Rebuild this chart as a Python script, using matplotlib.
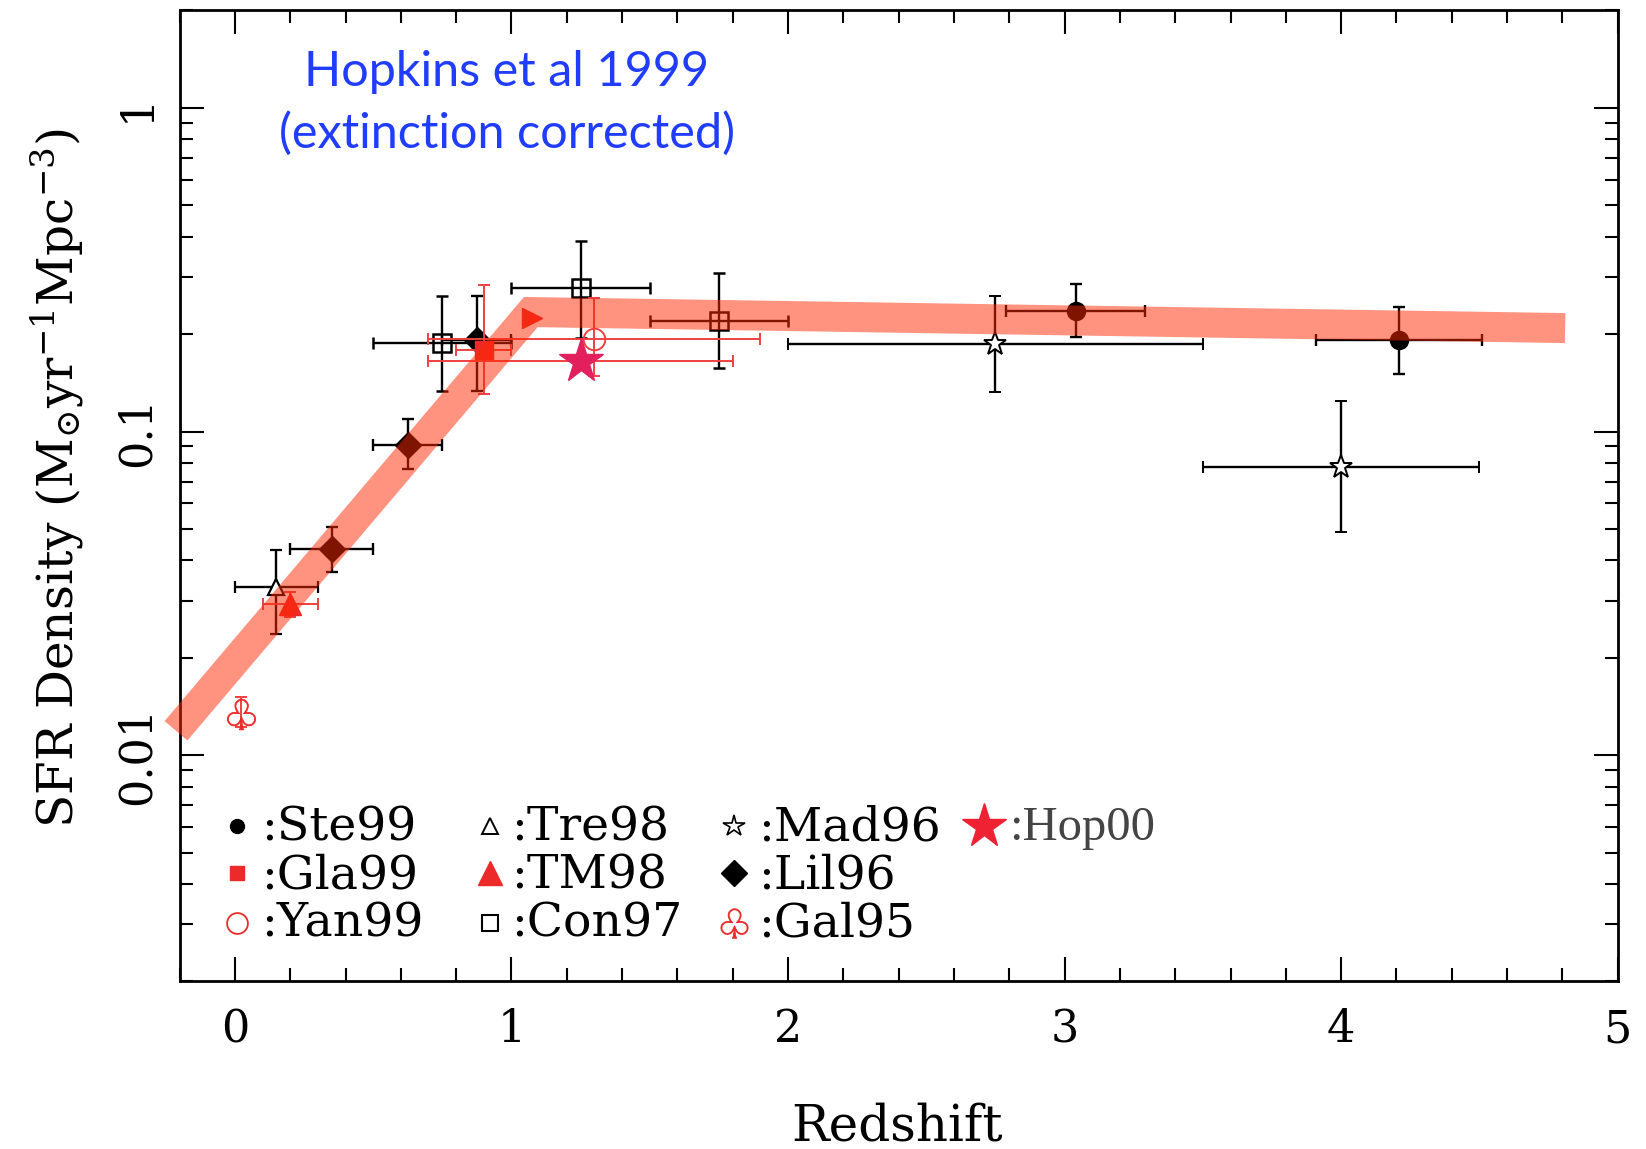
import numpy as np
import matplotlib
matplotlib.use("Agg")
import matplotlib.pyplot as plt
from matplotlib.ticker import FixedLocator, MultipleLocator, FixedFormatter, NullFormatter
from matplotlib.textpath import TextPath
from matplotlib.font_manager import FontProperties
from matplotlib.path import Path

plt.rcParams["font.family"] = ["DejaVu Serif"]
plt.rcParams["mathtext.fontset"] = "dejavuserif"

# ---- data: redshift, x-error (low, high), SFR density and its upper / lower bounds ----
ste99_z = [3.04, 4.21]
ste99_zlo = [0.25, 0.30]
ste99_zhi = [0.25, 0.30]
ste99_sfr = [0.235, 0.192]
ste99_hi = [0.285, 0.242]
ste99_lo = [0.196, 0.151]

tre98_z = [0.15]
tre98_zlo = [0.15]
tre98_zhi = [0.15]
tre98_sfr = [0.033]
tre98_hi = [0.043]
tre98_lo = [0.0237]

mad96_z = [2.75, 4.0]
mad96_zlo = [0.75, 0.5]
mad96_zhi = [0.75, 0.5]
mad96_sfr = [0.186, 0.0777]
mad96_hi = [0.263, 0.124]
mad96_lo = [0.1325, 0.0491]

hop00_z = [1.25]
hop00_zlo = [0.55]
hop00_zhi = [0.55]
hop00_sfr = [0.165]

gla99_z = [0.90]
gla99_zlo = [0.10]
gla99_zhi = [0.10]
gla99_sfr = [0.179]
gla99_hi = [0.284]
gla99_lo = [0.131]

tm98_z = [0.20]
tm98_zlo = [0.10]
tm98_zhi = [0.10]
tm98_sfr = [0.0293]
tm98_hi = [0.032]
tm98_lo = [0.0267]

tm98b_z = [1.075]
tm98b_sfr = [0.224]

lil96_z = [0.35, 0.625, 0.875]
lil96_zlo = [0.15, 0.125, 0.125]
lil96_zhi = [0.15, 0.125, 0.125]
lil96_sfr = [0.0433, 0.0908, 0.192]
lil96_hi = [0.0508, 0.109, 0.263]
lil96_lo = [0.0367, 0.0764, 0.133]

yan99_z = [1.30]
yan99_zlo = [0.60]
yan99_zhi = [0.60]
yan99_sfr = [0.1935]
yan99_hi = [0.258]
yan99_lo = [0.148]

con97_z = [0.75, 1.25, 1.75]
con97_zlo = [0.25, 0.25, 0.25]
con97_zhi = [0.25, 0.25, 0.25]
con97_sfr = [0.1877, 0.278, 0.220]
con97_hi = [0.263, 0.388, 0.3085]
con97_lo = [0.133, 0.195, 0.157]

gal95_z = [0.022]
gal95_sfr = [0.0134]
gal95_hi = [0.0151]
gal95_lo = [0.0122]

# fitted star-formation history (thick band)
fit_z = [-0.213, 1.07, 4.81]
fit_sfr = [0.0119, 0.234, 0.2088]

xticks = [0, 1, 2, 3, 4, 5]
yticks = [0.01, 0.1, 1]
ytick_labels = ["0.01", "0.1", "1"]

RED = "#EC2A2A"
RED_ERR = "#F04040"
STAR_PINK = "#E3205E"


def yerr(v, hi, lo):
    v, hi, lo = map(np.asarray, (v, hi, lo))
    return [v - lo, hi - v]


def club_marker():
    tp = TextPath((0, 0), "\u2667", size=10, prop=FontProperties(family="DejaVu Sans"))
    verts = tp.vertices.copy()
    ext = tp.get_extents()
    verts[:, 0] -= (ext.x0 + ext.x1) / 2
    verts[:, 1] -= (ext.y0 + ext.y1) / 2
    return Path(verts, tp.codes)


CLUB = club_marker()

fig = plt.figure(figsize=(16.46, 11.49), dpi=100)
ax = fig.add_axes([0.1091, 0.1458, 0.8737, 0.8451])
ax.set_yscale("log")
ax.set_xlim(-0.2, 5.0)
ax.set_ylim(0.002, 2.0)

eb_black = dict(ecolor="black", elinewidth=1.7, capsize=4.5, capthick=1.7, linestyle="none")
eb_red = dict(ecolor=RED_ERR, elinewidth=1.4, capsize=4.5, capthick=1.4, linestyle="none")

ax.errorbar(ste99_z, ste99_sfr, xerr=[ste99_zlo, ste99_zhi], yerr=yerr(ste99_sfr, ste99_hi, ste99_lo),
            fmt="o", ms=13, mfc="black", mec="black", zorder=3, **eb_black)
ax.errorbar(tre98_z, tre98_sfr, xerr=[tre98_zlo, tre98_zhi], yerr=yerr(tre98_sfr, tre98_hi, tre98_lo),
            fmt="^", ms=12, mfc="white", mec="black", mew=1.6, zorder=3, **eb_black)
ax.errorbar(mad96_z, mad96_sfr, xerr=[mad96_zlo, mad96_zhi], yerr=yerr(mad96_sfr, mad96_hi, mad96_lo),
            fmt="*", ms=17, mfc="white", mec="black", mew=1.4, zorder=3, **eb_black)
ax.errorbar(lil96_z, lil96_sfr, xerr=[lil96_zlo, lil96_zhi], yerr=yerr(lil96_sfr, lil96_hi, lil96_lo),
            fmt="D", ms=13, mfc="black", mec="black", zorder=3, **eb_black)
ax.errorbar(con97_z, con97_sfr, xerr=[con97_zlo, con97_zhi], yerr=yerr(con97_sfr, con97_hi, con97_lo),
            fmt="s", ms=13.5, mfc="none", mec="black", mew=1.8, zorder=3, **eb_black)

ax.errorbar(gla99_z, gla99_sfr, xerr=[gla99_zlo, gla99_zhi], yerr=yerr(gla99_sfr, gla99_hi, gla99_lo),
            fmt="s", ms=13, mfc=RED, mec=RED, zorder=3.2, **eb_red)
ax.errorbar(tm98_z, tm98_sfr, xerr=[tm98_zlo, tm98_zhi], yerr=yerr(tm98_sfr, tm98_hi, tm98_lo),
            fmt="^", ms=16, mfc=RED, mec=RED, zorder=3.2, **eb_red)
ax.plot(tm98b_z, tm98b_sfr, ">", ms=15, color=RED, zorder=3.2)
ax.errorbar(yan99_z, yan99_sfr, xerr=[yan99_zlo, yan99_zhi], yerr=yerr(yan99_sfr, yan99_hi, yan99_lo),
            fmt="o", ms=15.5, mfc="none", mec=RED_ERR, mew=1.4, zorder=3.2, **eb_red)
ax.errorbar(gal95_z, gal95_sfr, yerr=yerr(gal95_sfr, gal95_hi, gal95_lo),
            fmt="none", zorder=3.2, **eb_red)
ax.plot(gal95_z, gal95_sfr, marker=CLUB, ms=27, color=RED, mew=0.6, linestyle="none", zorder=3.3)
ax.errorbar(hop00_z, hop00_sfr, xerr=[hop00_zlo, hop00_zhi],
            fmt="*", ms=33, mfc=STAR_PINK, mec=STAR_PINK, zorder=3.4, **eb_red)

# thick translucent fit band drawn over the points
ax.plot(fit_z, fit_sfr, color="#FF2800", alpha=0.5, lw=21.6, solid_capstyle="butt",
        solid_joinstyle="miter", clip_on=False, zorder=5)

# axes styling
for sp in ax.spines.values():
    sp.set_linewidth(2.0)
ax.xaxis.set_major_locator(FixedLocator(xticks))
ax.xaxis.set_minor_locator(MultipleLocator(0.2))
ax.yaxis.set_major_locator(FixedLocator(yticks))
ax.yaxis.set_major_formatter(FixedFormatter(ytick_labels))
minor_y = [m * 10.0 ** e for e in range(-3, 1) for m in range(2, 10)]
ax.yaxis.set_minor_locator(FixedLocator(minor_y))
ax.yaxis.set_minor_formatter(NullFormatter())
ax.tick_params(which="both", direction="in", top=True, right=True, width=1.5)
ax.tick_params(which="major", length=17, labelsize=32, pad=19)
ax.tick_params(which="minor", length=9.5)
ax.tick_params(axis="y", which="major", pad=15)
for lab in ax.get_yticklabels():
    lab.set_rotation(90)
    lab.set_va("center")

fig.text(897.5 / 1646, 1 - 1127 / 1149, "Redshift", fontsize=36, ha="center", va="center")
fig.text(57.7 / 1646, 1 - 477.6 / 1149, r"SFR Density (M$_{{\odot}}$yr$^{-1}$Mpc$^{-3}$)",
         fontsize=35, rotation=90, ha="center", va="center")

ax.text(0.227, 0.937, "Hopkins et al 1999", transform=ax.transAxes, color="#1F3CFF",
        fontsize=35, family="Lato", ha="center", va="center")
ax.text(0.228, 0.8735, "(extinction corrected)", transform=ax.transAxes, color="#1F3CFF",
        fontsize=35, family="Lato", ha="center", va="center")

# key drawn inside the axes
mrows = [0.160, 0.1114, 0.0605]
trows = [0.1578, 0.1092, 0.0595]
mx = [0.0401, 0.216, 0.3854, 0.5591]
tx = [0.0569, 0.2307, 0.4022, 0.5766]
key = [
    (0, 0, dict(marker="o", ms=10, mfc="black", mec="black"), ":Ste99"),
    (1, 0, dict(marker="^", ms=11, mfc="white", mec="black", mew=1.4), ":Tre98"),
    (2, 0, dict(marker="*", ms=16, mfc="white", mec="black", mew=1.2), ":Mad96"),
    (3, 0, dict(marker="*", ms=33, mfc="#EE2233", mec="#EE2233"), ":Hop00"),
    (0, 1, dict(marker="s", ms=10, mfc=RED, mec=RED), ":Gla99"),
    (1, 1, dict(marker="^", ms=17, mfc=RED, mec=RED), ":TM98"),
    (2, 1, dict(marker="D", ms=13, mfc="black", mec="black"), ":Lil96"),
    (0, 2, dict(marker="o", ms=15, mfc="none", mec=RED, mew=1.3), ":Yan99"),
    (1, 2, dict(marker="s", ms=11, mfc="none", mec="black", mew=1.5), ":Con97"),
    (2, 2, dict(marker=CLUB, ms=26, mfc=RED, mec=RED, mew=0.6), ":Gal95"),
]
for c, r, mk, label in key:
    ax.plot([mx[c]], [mrows[r]], transform=ax.transAxes, linestyle="none", clip_on=False, **mk)
    if label == ":Hop00":
        ax.text(tx[c], trows[r], label, transform=ax.transAxes, fontsize=35, color="#444444",
                family="Liberation Serif", ha="left", va="center")
    else:
        ax.text(tx[c], trows[r], label, transform=ax.transAxes, fontsize=34, ha="left", va="center")

fig.savefig("out.png", dpi=100, facecolor="white")
